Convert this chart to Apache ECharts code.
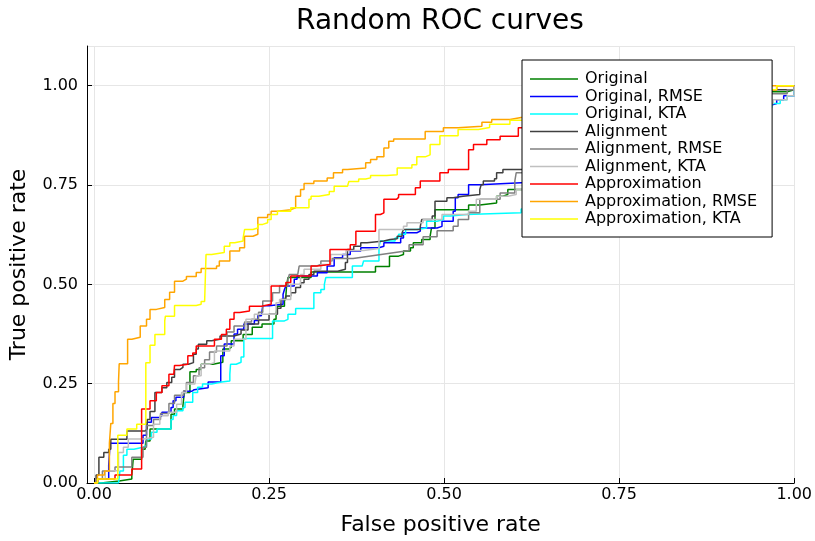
<!DOCTYPE html>
<html><head><meta charset="utf-8">
<script src="https://cdn.jsdelivr.net/npm/echarts@6/dist/echarts.min.js"></script>
<style>html,body{margin:0;padding:0;background:#fff}#c{width:815px;height:541px}</style>
</head><body><div id="c"></div>
<script>
const seriesNames = ["Original","Original, RMSE","Original, KTA","Alignment","Alignment, RMSE","Alignment, KTA","Approximation","Approximation, RMSE","Approximation, KTA"];
const seriesColors = ["#008000","#0000ff","#00ffff","#404040","#808080","#c0c0c0","#ff0000","#ffa500","#ffff00"];
const tickValues = [0, 0.25, 0.5, 0.75, 1.0];

const original = [[0,0],[0.01,0.005],[0.036,0.01],[0.054,0.02],[0.056,0.06],[0.068,0.085],[0.073,0.09],[0.074,0.106],[0.08,0.136],[0.11,0.173],[0.115,0.186],[0.127,0.195],[0.129,0.228],[0.137,0.28],[0.146,0.286],[0.153,0.299],[0.17,0.304],[0.184,0.337],[0.193,0.342],[0.196,0.358],[0.213,0.374],[0.226,0.392],[0.24,0.40],[0.257,0.412],[0.26,0.427],[0.262,0.445],[0.272,0.458],[0.274,0.47],[0.275,0.496],[0.277,0.517],[0.31,0.531],[0.402,0.545],[0.422,0.571],[0.435,0.575],[0.442,0.584],[0.452,0.592],[0.456,0.605],[0.468,0.613],[0.48,0.621],[0.482,0.642],[0.487,0.688],[0.535,0.70],[0.551,0.705],[0.575,0.722],[0.584,0.726],[0.591,0.739],[0.61,0.743],[0.68,0.79],[0.76,0.85],[0.85,0.91],[0.93,0.96],[0.965,0.985],[0.99,0.99],[1,1]];
const originalRMSE = [[0,0],[0.005,0.01],[0.021,0.045],[0.023,0.10],[0.07,0.12],[0.075,0.153],[0.082,0.165],[0.094,0.17],[0.097,0.178],[0.11,0.19],[0.113,0.207],[0.117,0.216],[0.128,0.231],[0.14,0.235],[0.143,0.24],[0.163,0.254],[0.181,0.32],[0.186,0.35],[0.2,0.375],[0.205,0.387],[0.214,0.40],[0.229,0.409],[0.234,0.421],[0.239,0.425],[0.241,0.446],[0.25,0.45],[0.27,0.475],[0.272,0.487],[0.274,0.496],[0.286,0.513],[0.29,0.521],[0.319,0.529],[0.333,0.546],[0.343,0.567],[0.355,0.575],[0.366,0.584],[0.381,0.592],[0.407,0.596],[0.414,0.605],[0.438,0.617],[0.442,0.63],[0.461,0.634],[0.466,0.642],[0.49,0.646],[0.497,0.659],[0.513,0.684],[0.516,0.718],[0.52,0.726],[0.535,0.751],[0.551,0.756],[0.61,0.76],[0.68,0.80],[0.78,0.86],[0.88,0.92],[0.94,0.95],[0.965,0.955],[0.975,0.965],[0.985,0.975],[1,1]];
const originalKTA = [[0,0],[0.035,0.005],[0.037,0.03],[0.042,0.07],[0.047,0.085],[0.057,0.09],[0.07,0.094],[0.075,0.111],[0.082,0.128],[0.09,0.136],[0.11,0.16],[0.113,0.17],[0.118,0.182],[0.127,0.19],[0.13,0.203],[0.141,0.228],[0.148,0.241],[0.155,0.249],[0.168,0.254],[0.182,0.257],[0.194,0.274],[0.195,0.299],[0.203,0.304],[0.21,0.317],[0.214,0.364],[0.255,0.408],[0.272,0.412],[0.277,0.425],[0.288,0.439],[0.314,0.479],[0.324,0.487],[0.329,0.50],[0.331,0.517],[0.369,0.546],[0.383,0.55],[0.385,0.559],[0.407,0.596],[0.409,0.609],[0.43,0.617],[0.435,0.626],[0.445,0.638],[0.461,0.642],[0.475,0.659],[0.49,0.663],[0.499,0.672],[0.509,0.676],[0.532,0.68],[0.61,0.69],[0.70,0.76],[0.80,0.84],[0.90,0.92],[0.95,0.945],[0.968,0.955],[0.98,0.965],[0.99,0.975],[1,1]];
const alignment = [[0,0],[0.003,0.02],[0.007,0.065],[0.014,0.077],[0.021,0.085],[0.024,0.11],[0.047,0.131],[0.073,0.136],[0.076,0.16],[0.08,0.18],[0.087,0.228],[0.097,0.24],[0.104,0.253],[0.111,0.266],[0.115,0.286],[0.123,0.291],[0.127,0.299],[0.135,0.303],[0.142,0.324],[0.146,0.337],[0.149,0.349],[0.161,0.358],[0.168,0.362],[0.18,0.37],[0.2,0.375],[0.21,0.385],[0.22,0.40],[0.235,0.41],[0.25,0.425],[0.262,0.44],[0.267,0.462],[0.274,0.471],[0.281,0.479],[0.288,0.492],[0.295,0.504],[0.30,0.513],[0.307,0.525],[0.314,0.533],[0.348,0.538],[0.359,0.555],[0.362,0.588],[0.371,0.596],[0.381,0.605],[0.39,0.609],[0.414,0.613],[0.423,0.615],[0.433,0.621],[0.44,0.63],[0.442,0.638],[0.466,0.646],[0.468,0.663],[0.483,0.672],[0.487,0.709],[0.504,0.718],[0.513,0.722],[0.527,0.726],[0.551,0.739],[0.553,0.751],[0.556,0.76],[0.572,0.766],[0.575,0.781],[0.584,0.789],[0.68,0.83],[0.78,0.88],[0.88,0.93],[0.94,0.975],[0.965,0.99],[1,1]];
const alignmentRMSE = [[0,0],[0.005,0.01],[0.012,0.03],[0.03,0.04],[0.054,0.065],[0.07,0.09],[0.075,0.145],[0.085,0.16],[0.095,0.175],[0.107,0.2],[0.115,0.221],[0.128,0.232],[0.132,0.253],[0.142,0.27],[0.15,0.29],[0.158,0.31],[0.165,0.33],[0.175,0.345],[0.19,0.38],[0.2,0.395],[0.215,0.405],[0.225,0.412],[0.235,0.43],[0.241,0.458],[0.255,0.479],[0.265,0.496],[0.277,0.513],[0.279,0.525],[0.291,0.529],[0.293,0.546],[0.317,0.55],[0.324,0.559],[0.34,0.565],[0.37,0.57],[0.39,0.575],[0.41,0.58],[0.43,0.585],[0.45,0.60],[0.47,0.62],[0.49,0.635],[0.513,0.646],[0.52,0.663],[0.535,0.68],[0.551,0.714],[0.58,0.73],[0.601,0.76],[0.603,0.781],[0.70,0.84],[0.80,0.89],[0.90,0.94],[0.95,0.965],[0.967,0.98],[0.99,0.99],[1,1]];
const alignmentKTA = [[0,0],[0.005,0.01],[0.016,0.031],[0.035,0.077],[0.042,0.09],[0.049,0.111],[0.071,0.115],[0.085,0.148],[0.094,0.169],[0.106,0.178],[0.118,0.198],[0.125,0.228],[0.132,0.249],[0.144,0.253],[0.146,0.27],[0.153,0.299],[0.165,0.303],[0.172,0.332],[0.194,0.345],[0.20,0.362],[0.217,0.412],[0.229,0.425],[0.26,0.454],[0.265,0.462],[0.281,0.50],[0.295,0.525],[0.30,0.538],[0.324,0.55],[0.338,0.575],[0.36,0.585],[0.385,0.59],[0.407,0.638],[0.442,0.646],[0.447,0.655],[0.47,0.663],[0.497,0.676],[0.535,0.684],[0.546,0.714],[0.575,0.722],[0.591,0.726],[0.603,0.739],[0.68,0.80],[0.78,0.86],[0.88,0.92],[0.95,0.955],[0.97,0.965],[0.99,0.975],[1,1]];
const approximation = [[0,0],[0.005,0.01],[0.03,0.02],[0.054,0.035],[0.068,0.186],[0.08,0.207],[0.089,0.228],[0.097,0.245],[0.107,0.274],[0.114,0.279],[0.115,0.296],[0.122,0.299],[0.134,0.32],[0.141,0.327],[0.146,0.345],[0.172,0.362],[0.182,0.374],[0.189,0.387],[0.194,0.412],[0.2,0.429],[0.208,0.433],[0.222,0.445],[0.239,0.45],[0.253,0.496],[0.274,0.505],[0.281,0.521],[0.31,0.546],[0.319,0.55],[0.337,0.588],[0.366,0.60],[0.374,0.634],[0.402,0.676],[0.409,0.68],[0.414,0.714],[0.432,0.719],[0.435,0.726],[0.459,0.743],[0.466,0.76],[0.494,0.781],[0.506,0.789],[0.535,0.839],[0.542,0.852],[0.561,0.864],[0.58,0.873],[0.606,0.894],[0.68,0.93],[0.78,0.955],[0.88,0.975],[0.95,0.99],[0.975,1.0],[1,1]];
const approximationRMSE = [[0,0],[0.005,0.02],[0.015,0.03],[0.022,0.10],[0.024,0.15],[0.027,0.20],[0.03,0.23],[0.035,0.255],[0.036,0.30],[0.048,0.362],[0.054,0.367],[0.066,0.395],[0.075,0.412],[0.08,0.437],[0.089,0.442],[0.101,0.462],[0.108,0.48],[0.115,0.508],[0.127,0.513],[0.132,0.52],[0.146,0.53],[0.153,0.54],[0.175,0.546],[0.179,0.559],[0.194,0.584],[0.208,0.592],[0.215,0.621],[0.227,0.626],[0.234,0.668],[0.248,0.676],[0.253,0.684],[0.262,0.688],[0.281,0.693],[0.288,0.722],[0.295,0.739],[0.30,0.754],[0.314,0.76],[0.333,0.768],[0.342,0.781],[0.355,0.789],[0.362,0.793],[0.388,0.806],[0.395,0.814],[0.404,0.821],[0.414,0.843],[0.421,0.86],[0.428,0.866],[0.473,0.885],[0.499,0.894],[0.52,0.898],[0.554,0.908],[0.568,0.915],[0.594,0.92],[0.61,0.923],[0.70,0.95],[0.80,0.97],[0.90,0.985],[0.95,1.0],[1,1]];
const approximationKTA = [[0,0],[0.005,0.01],[0.034,0.12],[0.047,0.136],[0.061,0.148],[0.074,0.303],[0.08,0.347],[0.087,0.374],[0.101,0.408],[0.102,0.42],[0.115,0.447],[0.146,0.45],[0.153,0.457],[0.158,0.462],[0.16,0.575],[0.168,0.58],[0.186,0.596],[0.194,0.605],[0.201,0.609],[0.213,0.617],[0.215,0.638],[0.227,0.642],[0.234,0.651],[0.241,0.655],[0.248,0.663],[0.253,0.676],[0.262,0.684],[0.281,0.693],[0.307,0.714],[0.31,0.722],[0.321,0.726],[0.336,0.734],[0.343,0.747],[0.362,0.751],[0.364,0.759],[0.378,0.765],[0.388,0.768],[0.395,0.774],[0.418,0.776],[0.433,0.793],[0.454,0.801],[0.461,0.821],[0.473,0.826],[0.48,0.852],[0.494,0.874],[0.52,0.89],[0.549,0.895],[0.565,0.903],[0.594,0.913],[0.61,0.917],[0.70,0.94],[0.80,0.96],[0.90,0.98],[0.955,0.99],[0.975,1.0],[1,1]];

const allData = [original, originalRMSE, originalKTA, alignment, alignmentRMSE, alignmentKTA, approximation, approximationRMSE, approximationKTA];

const FONT = "DejaVu Sans";
const chart = echarts.init(document.getElementById('c'), null, {renderer: 'canvas'});
const fmt = v => Number(v).toFixed(2);
chart.setOption({
  animation: false,
  backgroundColor: '#fff',
  title: {
    text: 'Random ROC curves', left: 435, top: 3, textAlign: 'center',
    textStyle: {fontFamily: FONT, fontSize: 28, fontWeight: 'normal', color: '#000'}
  },
  legend: {
    data: seriesNames, orient: 'vertical', left: 522, top: 60,
    padding: [11, 15, 10, 8], itemWidth: 48, itemHeight: 14, itemGap: 1.5,
    backgroundColor: '#fff', borderColor: '#000', borderWidth: 1,
    icon: 'path://M0,6.3 L48,6.3 L48,7.7 L0,7.7 Z',
    textStyle: {fontFamily: FONT, fontSize: 16, lineHeight: 14, color: '#000', padding: [0,0,0,2]}
  },
  grid: {left: 85, right: 19, top: 46, bottom: 57, containLabel: false},
  xAxis: {
    type: 'value', min: -0.01, max: 1.0,
    name: 'False positive rate', nameLocation: 'middle', nameGap: 31,
    nameTextStyle: {fontFamily: FONT, fontSize: 22, color: '#000'},
    axisLine: {onZero: false, lineStyle: {color: '#000', width: 1}},
    axisTick: {inside: true, length: 5, lineStyle: {color: '#000'}, customValues: tickValues},
    axisLabel: {customValues: tickValues, formatter: fmt, fontFamily: FONT, fontSize: 16, color: '#000', margin: 4},
    splitLine: {show: true, lineStyle: {color: '#e6e6e6', width: 1}}
  },
  yAxis: {
    type: 'value', min: 0, max: 1.1, interval: 0.25,
    name: 'True positive rate', nameLocation: 'middle', nameGap: 57, nameRotate: 90,
    nameTextStyle: {fontFamily: FONT, fontSize: 22, color: '#000'},
    axisLine: {show: true, onZero: false, lineStyle: {color: '#000', width: 1}},
    axisTick: {show: true, inside: true, length: 5, lineStyle: {color: '#000'}},
    axisLabel: {formatter: fmt, fontFamily: FONT, fontSize: 16, color: '#000', margin: 9,
      showMaxLabel: false},
    splitLine: {show: true, lineStyle: {color: '#e6e6e6', width: 1}}
  },
  series: allData.map((d, i) => ({
    name: seriesNames[i], type: 'line', step: 'end', data: d,
    symbol: 'none', showSymbol: false,
    lineStyle: {color: seriesColors[i], width: 1.5},
    itemStyle: {color: seriesColors[i]},
    z: 2 + i * 0.01
  }))
});
</script></body></html>
